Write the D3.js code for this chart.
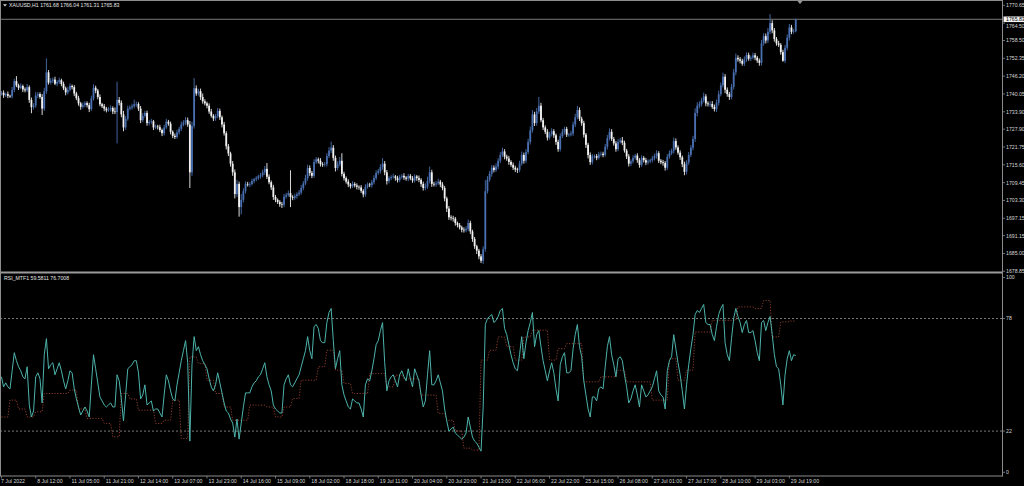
<!DOCTYPE html>
<html><head><meta charset="utf-8">
<script src="https://cdn.jsdelivr.net/npm/d3@7"></script>
<style>html,body{margin:0;padding:0;background:#000;overflow:hidden}svg{display:block}</style>
</head><body>
<svg id="chart" width="1024" height="486"></svg>
<script>
// ---------------- DATA ----------------
const symbolTitle = "XAUUSD,H1";
const lastOHLC = [1761.68, 1766.04, 1761.31, 1765.83];
const rsiTitle = "RSI_MTF1";
const rsiLast = ["59.5811", "76.7008"];
const firstOpen = 1740.2;
const closes = [
1740.5,1739.6,1740.0,1739.4,1739.2,1741.5,1744.5,1743.0,1742.2,1742.8,1741.6,1741.3,1742.4,1738.0,1735.5,1736.0,1739.5,1740.0,1739.0,1735.0,
1741.0,1747.5,1744.0,1744.6,1745.0,1743.6,1744.2,1744.8,1743.5,1742.0,1740.6,1741.5,1742.8,1742.4,1740.2,1738.6,1736.8,1735.6,1736.2,1736.9,
1736.2,1734.8,1738.5,1742.2,1741.2,1739.0,1736.5,1735.8,1735.0,1734.4,1734.8,1735.2,1734.0,1733.8,1738.0,1737.0,1733.0,1728.5,1731.5,1735.0,
1735.4,1735.8,1736.5,1736.6,1735.0,1731.0,1732.5,1733.5,1730.0,1730.4,1730.6,1728.5,1728.8,1728.6,1727.6,1726.5,1728.5,1730.5,1729.8,1727.0,
1725.6,1725.2,1726.8,1728.0,1729.5,1730.2,1731.0,1729.5,1713.0,1729.0,1742.0,1740.2,1741.0,1739.0,1737.5,1736.8,1736.0,1734.0,1732.5,1731.6,
1732.4,1734.2,1732.0,1729.5,1726.5,1722.0,1719.5,1716.0,1713.0,1705.5,1709.0,1701.0,1703.5,1706.5,1709.0,1708.8,1709.0,1710.0,1710.6,1711.0,
1711.6,1712.0,1713.0,1714.2,1711.5,1709.6,1707.8,1704.5,1703.5,1702.8,1702.0,1701.8,1704.6,1705.2,1705.8,1704.5,1704.2,1704.8,1705.4,1706.0,
1707.6,1709.2,1711.0,1714.5,1712.8,1711.8,1716.5,1717.5,1717.0,1715.8,1715.6,1715.8,1718.6,1720.5,1721.5,1718.0,1714.5,1715.8,1717.0,1712.5,
1711.0,1709.8,1708.8,1708.2,1709.0,1708.5,1708.0,1707.8,1706.6,1705.4,1708.0,1708.8,1708.6,1709.6,1711.0,1712.8,1713.4,1714.8,1716.0,1713.0,
1710.0,1711.0,1711.4,1711.6,1711.0,1710.3,1711.4,1711.8,1711.2,1710.8,1711.8,1710.9,1710.2,1711.6,1711.0,1710.4,1709.0,1707.6,1708.0,1710.0,
1713.0,1709.0,1708.8,1709.2,1709.8,1708.8,1707.6,1704.0,1700.5,1697.5,1697.2,1697.0,1695.5,1694.8,1694.0,1693.2,1693.0,1693.5,1695.5,1692.6,
1690.0,1687.5,1686.0,1684.0,1682.5,1686.5,1706.5,1710.5,1712.5,1714.6,1713.8,1715.0,1717.0,1719.0,1720.2,1718.4,1717.8,1716.6,1715.6,1714.6,
1714.0,1713.8,1716.0,1719.0,1717.0,1720.0,1723.5,1727.5,1733.0,1730.0,1734.0,1736.0,1731.0,1728.5,1727.0,1725.0,1726.2,1727.2,1725.8,1723.5,
1721.0,1725.5,1727.0,1728.0,1726.0,1726.0,1726.4,1729.5,1732.0,1734.5,1731.5,1730.0,1726.0,1722.5,1719.0,1716.5,1718.5,1718.6,1718.0,1719.2,
1719.4,1719.0,1721.8,1724.8,1727.0,1724.5,1723.0,1721.0,1723.5,1724.0,1723.2,1720.5,1718.5,1716.0,1716.8,1718.0,1718.8,1717.2,1715.6,1718.0,
1717.2,1716.4,1716.8,1717.2,1717.8,1718.6,1719.6,1717.0,1716.5,1716.2,1714.6,1718.4,1719.6,1720.4,1723.8,1721.6,1719.8,1718.2,1715.8,1713.2,
1716.4,1719.0,1721.5,1724.5,1733.5,1736.0,1736.5,1737.8,1739.2,1736.8,1736.5,1736.6,1735.6,1734.8,1737.0,1740.0,1743.0,1746.0,1741.5,1740.0,
1739.0,1742.5,1747.5,1752.5,1752.0,1751.5,1750.5,1752.0,1753.5,1752.2,1752.6,1753.4,1752.6,1751.6,1750.8,1757.5,1760.0,1758.5,1761.5,1764.5,
1762.0,1759.0,1757.5,1757.0,1754.5,1751.5,1756.0,1759.5,1763.0,1761.5,1761.68,1765.83];
const upperWick = [
0.6,0.8,0.5,0.9,0.4,1.0,0.8,1.7,0.6,0.9,0.5,0.7,1.1,0.6,0.8,0.9,1.2,0.7,0.6,1.0,
1.2,4.8,0.8,0.9,0.7,1.0,0.6,0.9,0.5,0.8,0.6,1.0,0.9,0.5,0.7,0.6,0.8,0.5,0.9,0.7,
0.6,0.8,1.0,1.2,0.7,0.6,0.9,0.5,0.8,0.6,0.7,0.9,0.6,1.4,6.3,1.0,0.8,1.2,0.9,1.0,
0.7,0.9,1.6,0.8,0.6,0.9,1.0,0.7,0.8,0.6,0.9,0.5,0.7,0.6,0.8,0.5,0.9,1.0,0.6,0.7,
0.5,0.8,0.9,0.7,1.0,0.8,1.1,0.9,1.2,1.5,3.5,1.0,0.8,0.9,1.2,0.7,0.6,0.8,0.9,0.6,
0.7,1.0,0.8,0.6,0.9,0.7,0.8,0.6,0.9,1.0,1.4,0.8,2.0,1.0,0.9,0.7,0.6,0.8,0.5,0.7,
0.6,0.8,0.9,1.0,2.0,0.8,0.6,0.9,0.7,0.5,0.6,0.8,1.0,0.7,0.9,7.9,0.6,0.8,0.7,0.9,
1.0,0.8,1.2,1.1,0.9,0.7,1.0,0.8,0.6,0.9,0.7,0.8,1.0,1.2,2.1,0.9,0.8,1.0,1.3,2.6,
0.7,0.6,0.8,0.5,0.9,0.6,0.7,0.5,0.8,0.6,0.9,0.7,0.6,0.8,1.0,0.9,0.8,1.0,1.9,0.9,
0.8,0.7,0.6,0.9,0.5,0.8,0.7,0.6,0.9,0.5,0.7,0.6,0.8,0.7,0.5,0.9,0.6,0.8,1.2,1.5,
2.0,0.9,0.7,0.8,1.0,0.6,0.8,0.7,0.6,0.9,0.7,0.8,0.6,0.5,0.7,0.6,0.8,0.9,1.2,0.8,
0.6,0.7,0.5,0.6,0.8,1.0,3.8,1.2,1.0,0.9,0.8,1.1,0.9,1.0,1.3,0.8,0.7,0.9,0.6,0.8,
0.7,0.6,1.0,1.2,0.8,1.0,1.1,1.3,1.5,0.9,1.2,3.0,1.0,0.8,0.7,0.9,0.8,1.0,0.7,0.6,
0.8,0.9,1.0,0.8,0.7,0.6,0.9,1.0,1.2,1.4,0.9,0.7,0.8,0.6,0.7,0.9,0.8,0.6,0.7,0.9,
0.8,0.7,1.0,1.1,1.2,0.9,0.7,0.8,1.0,0.9,1.2,0.7,0.6,0.8,0.7,0.9,0.6,0.8,0.7,0.9,
0.6,0.8,0.7,0.5,0.9,0.8,1.0,0.7,0.6,0.8,0.7,0.9,1.0,0.8,1.2,0.9,0.7,0.8,0.6,0.9,
0.8,1.0,0.9,1.1,1.6,1.2,1.0,0.9,1.3,0.8,0.7,0.9,1.0,0.8,1.1,1.2,1.0,1.4,0.9,0.8,
0.7,1.0,1.2,1.5,0.9,0.8,0.7,1.0,0.9,0.8,0.7,0.9,0.8,0.6,0.7,1.2,1.0,0.9,1.3,3.1,
1.0,0.8,0.7,0.9,0.6,0.8,1.0,1.1,1.2,0.9,0.8,0.21];
const lowerWick = [
0.7,0.9,0.6,0.8,0.5,0.7,0.9,0.6,0.8,0.5,0.9,0.7,0.6,1.0,2.1,0.8,0.7,0.9,0.6,2.2,
0.8,0.9,0.7,0.6,0.8,0.5,0.9,0.7,0.8,0.6,1.0,0.7,0.6,0.8,0.9,0.7,0.8,1.0,0.6,0.7,
0.8,1.0,0.6,0.7,0.9,0.8,0.7,0.6,0.9,0.7,0.5,0.8,0.9,0.7,10.8,0.9,1.0,1.3,0.8,0.7,
0.6,0.8,0.7,0.9,0.8,1.0,0.7,0.6,0.9,0.8,0.7,0.9,0.6,0.8,0.7,1.0,0.8,0.6,0.7,0.9,
0.8,0.7,0.6,0.8,0.7,0.6,0.9,0.8,5.4,1.2,0.9,0.8,0.7,1.0,0.8,0.7,0.9,0.8,0.6,0.9,
0.8,0.7,0.9,1.0,0.8,1.1,0.9,1.0,1.2,1.5,1.0,3.3,2.5,0.9,0.8,0.7,0.9,0.6,0.8,0.7,
0.6,0.8,0.7,0.9,0.8,0.7,0.9,1.0,0.8,0.7,0.9,1.1,0.8,0.7,0.6,3.5,0.8,0.7,0.9,0.6,
0.7,0.8,0.6,0.9,1.0,0.8,0.7,0.6,0.9,0.8,0.7,0.6,0.8,0.7,0.9,1.0,1.2,0.8,0.7,0.9,
0.8,0.7,0.9,0.8,0.6,0.7,0.9,0.8,0.7,1.0,0.8,0.6,0.7,0.9,0.8,0.7,0.6,0.8,0.9,1.0,
1.2,0.8,0.7,0.6,0.9,0.8,0.7,0.6,0.8,0.7,0.9,0.6,0.8,0.7,0.9,0.8,1.0,0.9,0.8,0.7,
0.8,1.0,0.7,0.8,0.6,0.9,0.8,1.0,1.2,0.9,0.8,1.0,0.9,0.8,0.7,0.9,0.8,0.7,0.8,0.9,
1.0,0.9,1.2,1.0,0.8,1.1,0.9,0.8,0.7,1.0,0.8,0.7,0.9,0.8,0.7,0.9,0.8,1.0,0.7,0.8,
0.9,1.0,0.8,0.7,1.0,0.8,0.7,0.9,0.8,1.0,0.9,0.8,0.7,0.9,0.8,1.0,0.7,0.8,0.9,1.0,
0.9,0.8,0.7,0.9,0.8,0.7,0.6,0.8,0.9,0.7,0.8,0.9,1.0,1.1,1.2,0.9,0.8,0.7,0.8,0.6,
0.7,0.8,0.6,0.9,0.8,0.7,0.8,0.9,0.7,0.6,0.8,0.7,0.9,1.0,0.8,0.7,0.6,0.9,1.0,0.7,
0.8,0.9,0.7,0.6,0.8,0.7,0.9,0.8,0.7,0.9,1.0,0.8,0.7,0.6,0.9,0.8,0.7,0.9,1.0,1.2,
0.9,0.8,0.7,0.9,1.0,1.2,0.9,0.8,0.7,1.0,0.8,0.9,0.7,0.8,1.0,0.9,0.8,0.7,1.2,0.9,
1.0,0.8,0.9,1.0,0.8,0.9,0.7,0.8,0.9,0.7,0.8,0.6,0.9,0.8,1.0,0.9,0.8,1.0,0.9,0.8,
1.0,0.9,0.8,0.7,0.9,0.3,0.8,0.9,1.0,0.8,0.7,0.37];
const rsi = [
49,44,46,44,43,52,61,57,54,52,49,48,54,35,29,32,49,51,48,36,
60,68,53,55,56,50,53,56,52,47,43,47,52,51,43,38,34,30,32,34,
32,29,45,60,53,46,39,37,35,34,35,36,34,34,50,47,38,27,40,53,
54,55,57,57,51,38,40,45,35,36,37,32,33,33,31,29,40,50,47,42,
38,37,45,51,57,62,67,56,17,55,69,62,64,60,57,55,53,48,44,42,
45,51,46,41,36,32,31,28,26,19,28,18,26,34,41,41,41,44,46,47,
49,50,53,56,49,45,42,35,33,32,31,31,45,48,50,45,44,46,48,50,
54,58,62,69,62,58,74,75,73,67,66,66,76,81,83,67,53,58,62,45,
40,37,34,33,38,37,36,36,33,29,45,48,47,52,58,65,67,72,76,56,
42,47,49,50,47,44,50,52,49,47,53,48,44,53,50,47,40,34,37,50,
62,45,45,47,50,46,42,33,27,22,23,24,21,20,19,18,19,21,29,24,
19,17,16,14,12,34,75,78,79,80,76,77,79,82,83,73,70,65,60,56,
53,52,60,69,58,66,72,76,81,64,70,72,64,57,52,47,52,56,51,43,
37,55,59,61,51,51,52,63,70,75,64,59,47,40,33,29,39,39,37,43,
44,43,54,64,69,60,55,49,58,59,57,50,44,36,38,42,45,40,34,45,
42,39,40,42,44,48,52,42,40,39,33,52,57,59,70,63,56,50,42,33,
45,55,63,70,80,82,81,83,85,76,75,75,70,67,74,80,83,85,66,60,
57,68,78,83,79,76,71,75,77,71,71,72,67,61,57,76,77,72,76,79,
70,60,54,53,45,35,50,58,62,57,60,59.5811];
// higher-timeframe (H4) RSI, one value per 4 H1 bars
const rsiH4 = [
29,37.4,33,29,31.6,40.7,40.7,40.7,42.4,33,
28.3,28.3,25.8,19.2,40.7,38,32.4,32.4,25.8,27.4,
37.4,18.3,58.9,55.6,47.3,40.7,34,27.4,27.4,34.9,
34.9,34,29,34,38.2,47.3,47.3,54,62.2,52.3,
45.7,40.7,40.7,50.6,50.6,44,49.8,48,48,39.9,
39.9,30.8,27.4,22,13.5,12.5,57.3,62.2,68.8,64,
57.3,68.8,72.2,72.2,57.3,63,65.5,65.5,46.5,46.5,
49,49,52.3,46.5,46.5,46.5,37.4,37.4,58,47.3,
52.3,71.3,71.3,77.1,77.1,77.1,83.8,83.8,83,87,
68.8,76.3,76.7008];
const rsiLevels = [78, 22];
const rsiAxisTicks = [100, 78, 22, 0];
const priceTicks = [1770.65,1764.50,1758.50,1752.35,1746.20,1740.05,1733.90,1727.90,1721.75,1715.60,1709.45,1703.30,1697.15,1691.15,1685.00,1678.85];
const timeLabels = ["7 Jul 2022","8 Jul 12:00","11 Jul 05:00","11 Jul 21:00","12 Jul 14:00","13 Jul 07:00","13 Jul 23:00","14 Jul 16:00","15 Jul 09:00","18 Jul 02:00","18 Jul 18:00","19 Jul 11:00","20 Jul 04:00","20 Jul 20:00","21 Jul 13:00","22 Jul 06:00","22 Jul 22:00","25 Jul 15:00","26 Jul 08:00","27 Jul 01:00","27 Jul 17:00","28 Jul 10:00","29 Jul 03:00","29 Jul 19:00"];
const timeLabelBars = [0,16,32,48,64,80,96,112,128,144,160,176,192,208,224,240,256,272,288,304,320,336,352,368];

// ---------------- STYLE ----------------
const FONT = "'Liberation Sans', Arial, sans-serif";
const FS = 5.2;
const bullColor = "#4a6fb0", bearColor = "#f2f2f2";
const axisColor = "#8c8c8c", textColor = "#d6d6d6";

const svg = d3.select("#chart");
svg.append("rect").attr("width",1024).attr("height",486).attr("fill","#000");

const axisX = 1002.5;
const N = closes.length;
const x = d3.scaleLinear().domain([0, N-1]).range([1.45, 1.45 + (N-1)*2.141]);
const yP = d3.scaleLinear().domain([1678.85, 1770.65]).range([271.3, 5.3]);
const yR = d3.scaleLinear().domain([0, 100]).range([475.3, 274.3]);

const defs = svg.append("defs");
defs.append("clipPath").attr("id","cpP").append("rect").attr("x",0).attr("y",1).attr("width",axisX).attr("height",270);
defs.append("clipPath").attr("id","cpR").append("rect").attr("x",0).attr("y",274).attr("width",axisX).attr("height",202);

// ---- price pane ----
const bars = closes.map((c,i)=>{
  const o = i===0 ? firstOpen : closes[i-1];
  return {i, o, c, h: Math.max(o,c)+upperWick[i], l: Math.min(o,c)-lowerWick[i]};
});
const gP = svg.append("g").attr("clip-path","url(#cpP)");
// bid line
gP.append("line").attr("x1",0).attr("x2",axisX).attr("y1",yP(lastOHLC[3])).attr("y2",yP(lastOHLC[3]))
  .attr("stroke","#7a7a7a").attr("stroke-width",1);
const cg = gP.append("g");
cg.selectAll("line.w").data(bars).join("line").attr("class","w")
  .attr("x1",d=>x(d.i)).attr("x2",d=>x(d.i)).attr("y1",d=>yP(d.h)).attr("y2",d=>yP(d.l))
  .attr("stroke",d=>d.c>=d.o?bullColor:bearColor).attr("stroke-width",0.9);
cg.selectAll("rect.b").data(bars).join("rect").attr("class","b")
  .attr("x",d=>x(d.i)-0.9).attr("width",1.8)
  .attr("y",d=>yP(Math.max(d.o,d.c))).attr("height",d=>Math.max(0.6, yP(Math.min(d.o,d.c))-yP(Math.max(d.o,d.c))))
  .attr("fill",d=>d.c>=d.o?bullColor:bearColor);

// header
svg.append("path").attr("d","M3,4.2 L7,4.2 L5,6.6 Z").attr("fill","#d8d8d8");
svg.append("text").attr("x",9).attr("y",7.2).attr("font-family",FONT).attr("font-size",FS).attr("fill","#e6e6e6")
  .text(symbolTitle + "  " + lastOHLC.map(v=>v.toFixed(2)).join(" "));
// chart shift marker
svg.append("path").attr("d","M797.5,1 L802.5,1 L800,4 Z").attr("fill","#9a9a9a");

// ---- RSI pane ----
const gR = svg.append("g").attr("clip-path","url(#cpR)");
gR.selectAll("line.lvl").data(rsiLevels).join("line").attr("class","lvl")
  .attr("x1",0).attr("x2",axisX).attr("y1",d=>yR(d)).attr("y2",d=>yR(d))
  .attr("stroke","#9a9a9a").attr("stroke-width",0.8).attr("stroke-dasharray","2,2");
const mtfPerBar = closes.map((c,i)=>rsiH4[Math.floor(i/4)]);
gR.append("path").datum(mtfPerBar)
  .attr("d", d3.line().x((d,i)=>x(i)).y(d=>yR(d)))
  .attr("fill","none").attr("stroke","#9c4232").attr("stroke-width",0.9).attr("stroke-dasharray","1.2,1.6");
gR.append("path").datum(rsi)
  .attr("d", d3.line().x((d,i)=>x(i)).y(d=>yR(d)))
  .attr("fill","none").attr("stroke","#4db3ab").attr("stroke-width",1);
svg.append("text").attr("x",4).attr("y",280.4).attr("font-family",FONT).attr("font-size",FS).attr("fill","#e6e6e6")
  .text(rsiTitle + " " + rsiLast.join(" "));

// ---- frames ----
svg.append("line").attr("x1",0).attr("x2",axisX).attr("y1",0.5).attr("y2",0.5).attr("stroke",axisColor).attr("stroke-width",1);
svg.append("rect").attr("x",0).attr("y",271.5).attr("width",axisX).attr("height",2).attr("fill","#9a9a9a");
svg.append("line").attr("x1",0.5).attr("x2",0.5).attr("y1",0).attr("y2",476).attr("stroke",axisColor);
svg.append("line").attr("x1",axisX).attr("x2",axisX).attr("y1",0).attr("y2",476.5).attr("stroke",axisColor);
svg.append("line").attr("x1",0).attr("x2",axisX).attr("y1",476).attr("y2",476).attr("stroke",axisColor);

// price axis
const yc = yP(lastOHLC[3]);
const labY = v => { const y = yP(v); return (y > yc && y - yc < 6.6) ? yc + 6.6 : y; };
const pa = svg.append("g");
pa.selectAll("line").data(priceTicks).join("line")
  .attr("x1",axisX).attr("x2",axisX+2.5).attr("y1",d=>yP(d)).attr("y2",d=>yP(d)).attr("stroke",axisColor).attr("stroke-width",0.8);
pa.selectAll("text").data(priceTicks).join("text")
  .attr("x",axisX+3.5).attr("y",d=>labY(d)).attr("dy","0.36em").attr("font-family",FONT).attr("font-size",FS).attr("fill",textColor)
  .text(d=>d.toFixed(2));
// current price label
svg.append("rect").attr("x",axisX+1).attr("y",yc-2.8).attr("width",21).attr("height",5.6).attr("fill","#f4f4f4");
svg.append("text").attr("x",axisX+3.5).attr("y",yc).attr("dy","0.36em").attr("font-family",FONT).attr("font-size",FS).attr("fill","#000")
  .text(lastOHLC[3].toFixed(2));

// RSI axis
const ra = svg.append("g");
const rLabY = v => Math.min(472.3, Math.max(277.5, yR(v)));
ra.selectAll("line").data(rsiAxisTicks).join("line")
  .attr("x1",axisX).attr("x2",axisX+2.5).attr("y1",d=>rLabY(d)).attr("y2",d=>rLabY(d)).attr("stroke",axisColor).attr("stroke-width",0.8);
ra.selectAll("text").data(rsiAxisTicks).join("text")
  .attr("x",axisX+3.5).attr("y",d=>rLabY(d)).attr("dy","0.36em").attr("font-family",FONT).attr("font-size",FS).attr("fill",textColor)
  .text(d=>d);

// time axis
const ta = svg.append("g");
ta.selectAll("line").data(timeLabelBars).join("line")
  .attr("x1",d=>x(d)).attr("x2",d=>x(d)).attr("y1",476).attr("y2",478.5).attr("stroke",axisColor).attr("stroke-width",0.8);
ta.selectAll("text").data(timeLabelBars).join("text")
  .attr("x",(d,i)=> i===0 ? 1 : x(d)+1.5).attr("y",482.6).attr("font-family",FONT).attr("font-size",FS).attr("fill",textColor)
  .text((d,i)=>timeLabels[i]);
</script>
</body></html>
